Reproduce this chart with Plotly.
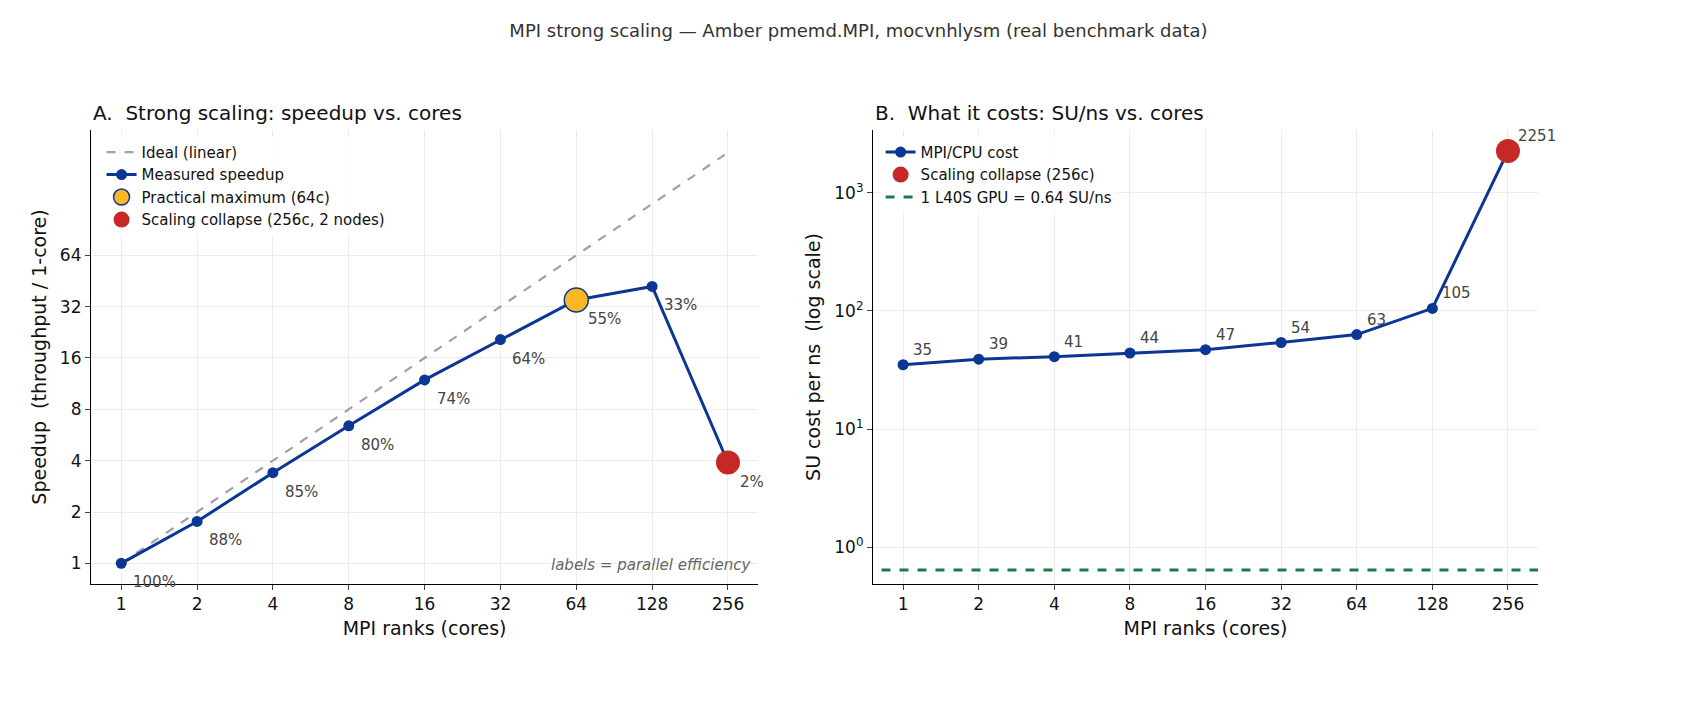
import plotly.graph_objects as go
import math

cores = [1, 2, 4, 8, 16, 32, 64, 128, 256]
speedup = [1.0, 1.76, 3.4, 6.4, 11.9, 20.5, 35.0, 42.0, 3.9]
eff_labels = ["100%", "88%", "85%", "80%", "74%", "64%", "55%", "33%", "2%"]
su_ns = [35, 39, 41, 44, 47, 54, 63, 105, 2251]
gpu_su = 0.64
ytick_vals = [1, 2, 4, 8, 16, 32, 64]

BLUE = "#0b3694"
RED = "#c62828"
GOLD = "#fbb724"
FONT = "DejaVu Sans"

fig = go.Figure()
fig.add_trace(go.Scatter(x=[cores[0], cores[-1]], y=[cores[0], cores[-1]], mode="lines",
                         line=dict(color="#a0a0a8", width=2.2, dash="dash"), name="Ideal (linear)",
                         xaxis="x", yaxis="y", legend="legend"))
fig.add_trace(go.Scatter(x=cores, y=speedup, mode="lines+markers", line=dict(color=BLUE, width=3),
                         marker=dict(size=11, color=BLUE), name="Measured speedup",
                         xaxis="x", yaxis="y", legend="legend"))
fig.add_trace(go.Scatter(x=[cores[6]], y=[speedup[6]], mode="markers",
                         marker=dict(size=24, color=GOLD, line=dict(color=BLUE, width=1.5)),
                         name="Practical maximum (64c)", xaxis="x", yaxis="y", legend="legend"))
fig.add_trace(go.Scatter(x=[cores[8]], y=[speedup[8]], mode="markers",
                         marker=dict(size=24, color=RED), name="Scaling collapse (256c, 2 nodes)",
                         xaxis="x", yaxis="y", legend="legend"))
fig.add_trace(go.Scatter(x=cores, y=su_ns, mode="lines+markers", line=dict(color=BLUE, width=3),
                         marker=dict(size=11, color=BLUE), name="MPI/CPU cost",
                         xaxis="x2", yaxis="y2", legend="legend2"))
fig.add_trace(go.Scatter(x=[cores[8]], y=[su_ns[8]], mode="markers",
                         marker=dict(size=24, color=RED), name="Scaling collapse (256c)",
                         xaxis="x2", yaxis="y2", legend="legend2"))
fig.add_trace(go.Scatter(x=[0.5, 512], y=[gpu_su, gpu_su], mode="lines",
                         line=dict(color="#1e7b45", width=3, dash="dash"), name="1 L40S GPU = 0.64 SU/ns",
                         xaxis="x2", yaxis="y2", legend="legend2"))

ann = []
for c, s, l in zip(cores, speedup, eff_labels):
    ann.append(dict(x=math.log10(c), y=math.log10(s), text=l, xref="x", yref="y", showarrow=False,
                    xanchor="left", yanchor="top", xshift=10, yshift=-8,
                    font=dict(size=15, color="#444", family=FONT)))
for c, v in zip(cores, su_ns):
    ann.append(dict(x=math.log10(c), y=math.log10(v), text=str(v), xref="x2", yref="y2", showarrow=False,
                    xanchor="left", yanchor="bottom", xshift=8, yshift=4,
                    font=dict(size=15, color="#444", family=FONT)))
ann.append(dict(x=0.438, y=0.2, xref="paper", yref="paper", text="<i>labels = parallel efficiency</i>",
                showarrow=False, xanchor="right", yanchor="bottom", font=dict(size=15, color="#666", family=FONT)))
ann.append(dict(x=0.0488, y=0.833, xref="paper", yref="paper", text="A.  Strong scaling: speedup vs. cores",
                showarrow=False, xanchor="left", yanchor="bottom", font=dict(size=20, color="#111", family=FONT)))
ann.append(dict(x=0.5085, y=0.833, xref="paper", yref="paper", text="B.  What it costs: SU/ns vs. cores",
                showarrow=False, xanchor="left", yanchor="bottom", font=dict(size=20, color="#111", family=FONT)))

xcommon = dict(type="log", range=[-0.12, 2.528], tickvals=cores, ticktext=[str(c) for c in cores],
               showline=True, linecolor="black", linewidth=1.2, ticks="outside", ticklen=5,
               showgrid=True, gridcolor="#ececec", zeroline=False,
               tickfont=dict(size=17, color="#111"),
               title=dict(text="MPI ranks (cores)", font=dict(size=19, color="#111"), standoff=8))
fig.update_layout(
    width=1701, height=710, paper_bgcolor="white", plot_bgcolor="white",
    margin=dict(l=0, r=0, t=0, b=0), font=dict(family=FONT),
    title=dict(text="MPI strong scaling — Amber pmemd.MPI, mocvnhlysm (real benchmark data)",
               x=0.5, xanchor="center", y=0.968, yanchor="middle", font=dict(size=18, color="#333")),
    xaxis=dict(domain=[0.0488, 0.441], anchor="y", **xcommon),
    xaxis2=dict(domain=[0.5085, 0.8995], anchor="y2", **xcommon),
    yaxis=dict(domain=[0.189, 0.828], type="log", range=[-0.12, 2.54], tickvals=ytick_vals,
               ticktext=[str(v) for v in ytick_vals], showline=True, linecolor="black", linewidth=1.2,
               ticks="outside", ticklen=5, showgrid=True, gridcolor="#ececec", zeroline=False,
               tickfont=dict(size=17, color="#111"),
               title=dict(text="Speedup  (throughput / 1-core)", font=dict(size=19, color="#111"), standoff=8)),
    yaxis2=dict(domain=[0.189, 0.828], type="log", range=[-0.31, 3.53], anchor="x2",
                tickvals=[1, 10, 100, 1000], ticktext=["10<sup>0</sup>", "10<sup>1</sup>", "10<sup>2</sup>", "10<sup>3</sup>"],
                showline=True, linecolor="black", linewidth=1.2, ticks="outside", ticklen=5,
                showgrid=True, gridcolor="#ececec", zeroline=False, tickfont=dict(size=17, color="#111"),
                title=dict(text="SU cost per ns  (log scale)", font=dict(size=19, color="#111"), standoff=8)),
    legend=dict(x=0.055, y=0.82, xanchor="left", yanchor="top", bgcolor="rgba(255,255,255,0.8)",
                font=dict(size=15, color="#111"), tracegroupgap=2),
    legend2=dict(x=0.513, y=0.82, xanchor="left", yanchor="top", bgcolor="rgba(255,255,255,0.8)",
                 font=dict(size=15, color="#111"), tracegroupgap=2),
    annotations=ann, showlegend=True,
)
fig.write_html("out.html")
